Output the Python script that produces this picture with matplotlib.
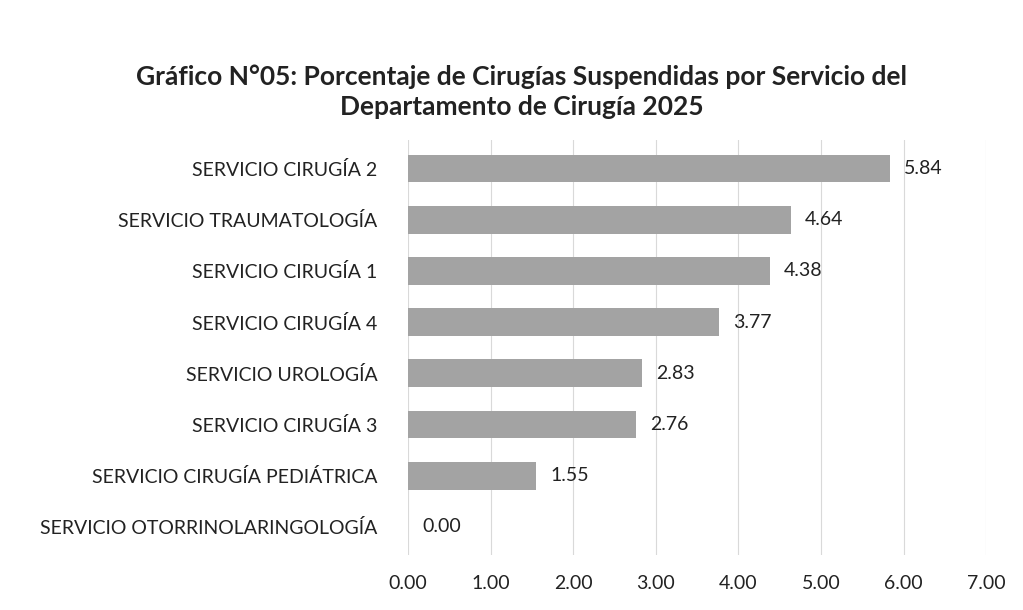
import numpy as np
import matplotlib.pyplot as plt

plt.rcParams['font.family'] = ['Lato', 'DejaVu Sans']

servicios = ['SERVICIO CIRUGÍA 2', 'SERVICIO TRAUMATOLOGÍA', 'SERVICIO CIRUGÍA 1',
             'SERVICIO CIRUGÍA 4', 'SERVICIO UROLOGÍA', 'SERVICIO CIRUGÍA 3',
             'SERVICIO CIRUGÍA PEDIÁTRICA', 'SERVICIO OTORRINOLARINGOLOGÍA']
porcentajes = [5.84, 4.64, 4.38, 3.77, 2.83, 2.76, 1.55, 0.00]
ticks = [0, 1, 2, 3, 4, 5, 6, 7]

fig = plt.figure(figsize=(10.23, 6.10), dpi=100)
ax = fig.add_axes([0.399, 0.09, 0.565, 0.68])

y = np.arange(len(servicios))
ax.barh(y, porcentajes, height=0.54, color='#a3a3a3', linewidth=0, zorder=3)
for yi, v in zip(y, porcentajes):
    ax.annotate(f'{v:.2f}', (v, yi), xytext=(10, 0), textcoords='offset points',
                va='center', ha='left', fontsize=14, color='#222222')

ax.set_yticks(y)
ax.set_yticklabels(servicios, fontsize=14, color='#222222')
ax.invert_yaxis()
ax.set_ylim(len(servicios) - 0.45, -0.55)

ax.set_xlim(0, 7)
ax.set_xticks(ticks)
ax.set_xticklabels([f'{t:.2f}' for t in ticks], fontsize=14, color='#222222')
ax.tick_params(axis='both', length=0)
ax.tick_params(axis='x', pad=14)
ax.tick_params(axis='y', pad=22)
ax.grid(axis='x', color='#d9d9d9', linewidth=0.8, zorder=0)
for s in ax.spines.values():
    s.set_visible(False)

fig.text(0.51, 0.85, 'Gráfico N°05: Porcentaje de Cirugías Suspendidas por Servicio del\nDepartamento de Cirugía 2025',
         ha='center', va='center', fontsize=19, fontweight='bold', color='#222222', linespacing=1.3)

fig.savefig('out.png', dpi=100)
